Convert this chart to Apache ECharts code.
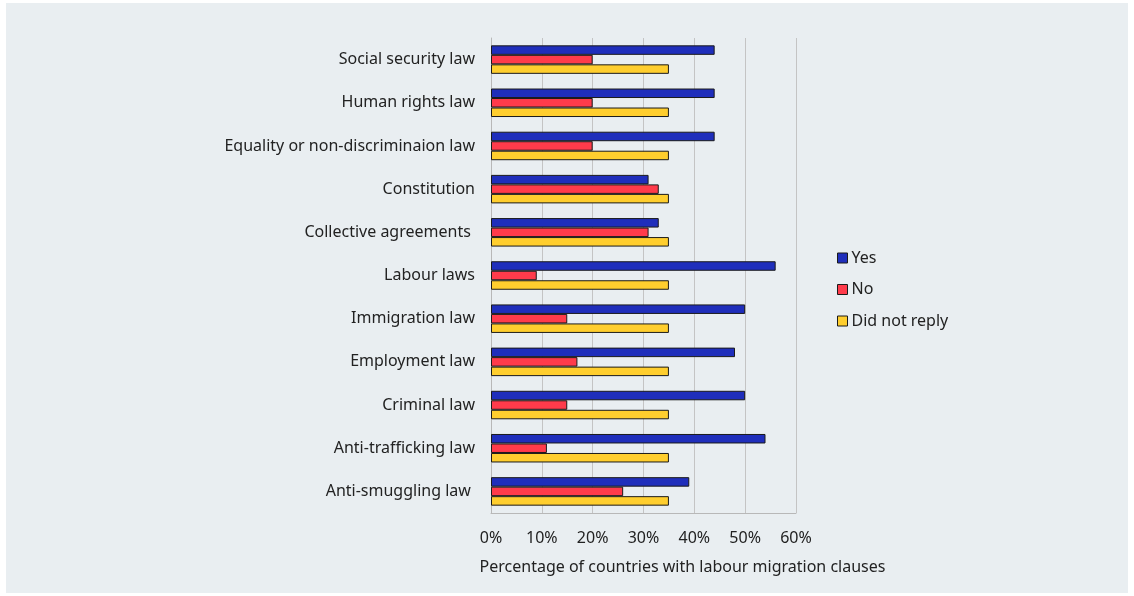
<!DOCTYPE html>
<html><head><meta charset="utf-8">
<script src="https://cdn.jsdelivr.net/npm/echarts@6/dist/echarts.min.js"></script>
<style>
html,body{margin:0;padding:0;background:#fff;width:1134px;height:596px;overflow:hidden}
#bg{position:absolute;left:6px;top:3px;width:1122px;height:590px;background:#E9EEF1}
#c{position:absolute;left:0;top:0;width:1134px;height:596px}
</style></head>
<body><div id="bg"></div><div id="c"></div>
<script>
const categories = ["Social security law","Human rights law","Equality or non-discriminaion law","Constitution","Collective agreements ","Labour laws","Immigration law","Employment law","Criminal law","Anti-trafficking law","Anti-smuggling law "];
const yesValues = [44,44,44,31,33,56,50,48,50,54,39];
const noValues = [20,20,20,33,31,9,15,17,15,11,26];
const didNotReplyValues = [35,35,35,35,35,35,35,35,35,35,35];
const seriesNames = ["Yes","No","Did not reply"];
const colors = ["#1F2EBB","#FF3B4B","#FFCE2E"];
const xTicks = [0,10,20,30,40,50,60];

const chart = echarts.init(document.getElementById('c'), null, {renderer:'canvas'});
const font = '"Noto Sans", sans-serif';
const mk = (name, data, i) => ({
  name, type:'bar', data, barGap:'0%', barCategoryGap:'34%',
  itemStyle:{color:colors[i], borderColor:'#1a1a1a', borderWidth:1},
  emphasis:{disabled:true}
});
chart.setOption({
  backgroundColor:'transparent',
  animation:false,
  textStyle:{fontFamily:font},
  grid:{left:491, right:338, top:38, bottom:83},
  legend:{
    orient:'vertical', left:832, top:245, itemGap:15.5,
    itemWidth:10, itemHeight:10,
    textStyle:{fontSize:16, color:'#222', fontFamily:font, padding:[0,0,0,-1]},
    data:seriesNames.map((n,i)=>({name:n, icon:'rect', itemStyle:{color:colors[i], borderColor:'#1a1a1a', borderWidth:1}}))
  },
  xAxis:{
    type:'value', min:xTicks[0], max:xTicks[xTicks.length-1], interval:10,
    axisLabel:{formatter:v=>v+'%', fontSize:16, color:'#222', margin:17, fontFamily:font},
    axisLine:{show:true, lineStyle:{color:'#b8b8b8'}},
    axisTick:{show:false},
    splitLine:{show:true, lineStyle:{color:'#c4c4c4', width:1}},
    name:'Percentage of countries with labour migration clauses',
    nameLocation:'middle', nameGap:46,
    nameTextStyle:{fontSize:16, color:'#222', fontFamily:font, padding:[0,0,0,78]}
  },
  yAxis:{
    type:'category', data:categories, inverse:true,
    axisLabel:{fontSize:16, color:'#222', margin:16, fontFamily:font},
    axisLine:{show:true, lineStyle:{color:'#b8b8b8'}},
    axisTick:{show:false}
  },
  series:[mk(seriesNames[0], yesValues,0), mk(seriesNames[1], noValues,1), mk(seriesNames[2], didNotReplyValues,2)]
});
</script></body></html>
